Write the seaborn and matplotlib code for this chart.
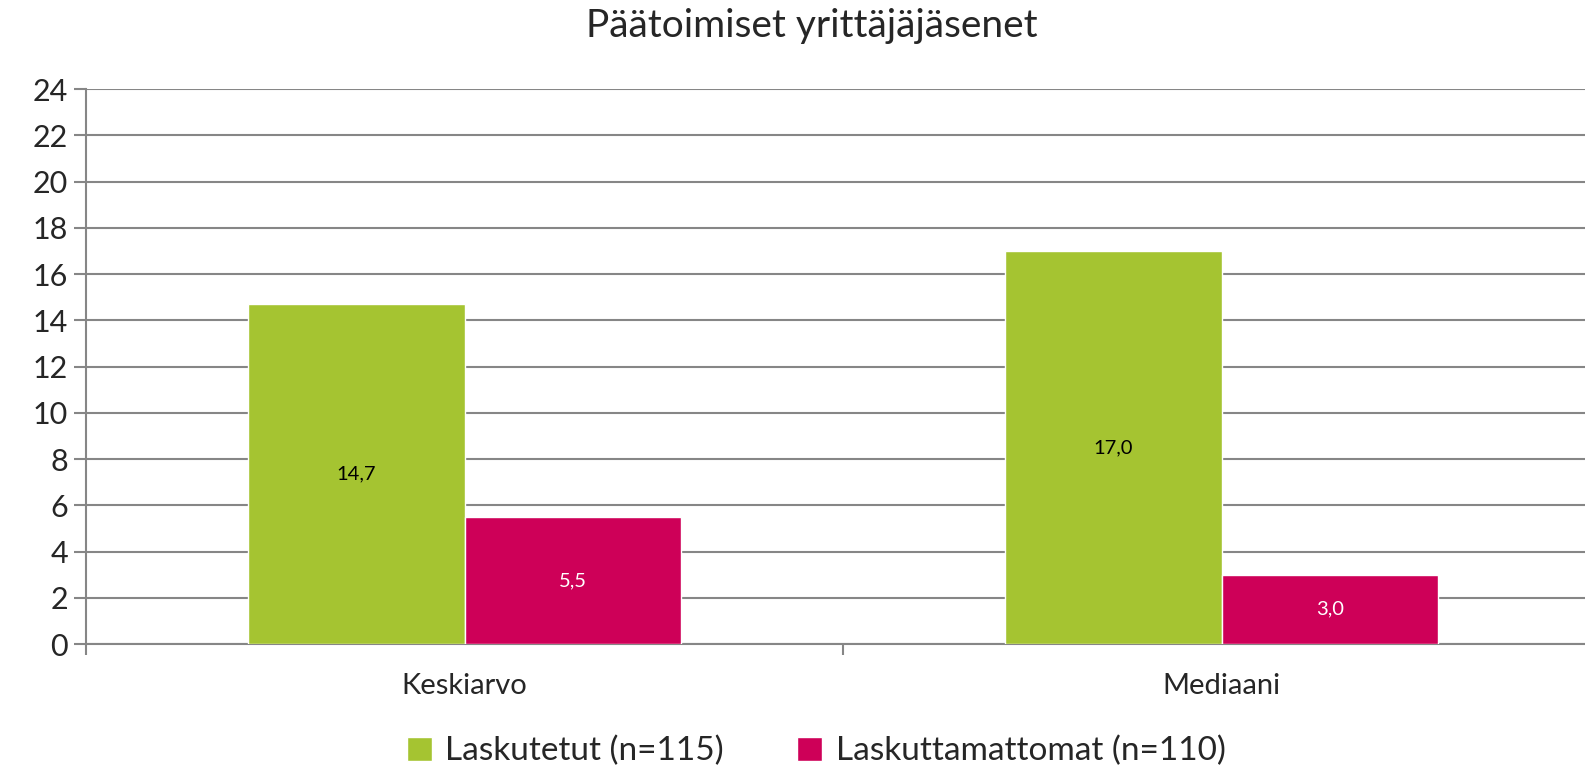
import pandas as pd
import numpy as np
import matplotlib.pyplot as plt
import seaborn as sns
from matplotlib.patches import Patch

# data
mittarit = ['Keskiarvo', 'Mediaani']
ryhmat = ['Laskutetut (n=115)', 'Laskuttamattomat (n=110)']
laskutetut = [14.7, 17.0]
laskuttamattomat = [5.5, 3.0]
y_ticks = list(range(0, 25, 2))

green = '#A5C431'
pink = '#CE0058'
grid_col = '#868686'

sns.set_style("white")
plt.rcParams['font.family'] = ['Lato', 'DejaVu Sans']

df = pd.DataFrame({
    'mittari': mittarit * 2,
    'ryhma': [ryhmat[0]] * len(mittarit) + [ryhmat[1]] * len(mittarit),
    'arvo': laskutetut + laskuttamattomat,
})

fig = plt.figure(figsize=(15.85, 7.72), dpi=100)
ax = fig.add_axes([0.0543, 0.1658, 0.9457, 0.7189])

sns.barplot(data=df, x='mittari', y='arvo', hue='ryhma', palette=[green, pink],
            width=0.572, gap=0, errorbar=None, saturation=1, ax=ax, zorder=3,
            legend=False)

# value labels inside bars
label_cols = ['black', 'white']
for cont, col in zip(ax.containers, label_cols):
    labs = [f'{b.get_height():.1f}'.replace('.', ',') for b in cont]
    ax.bar_label(cont, labels=labs, label_type='center', color=col, fontsize=14.5)

ax.set_yticks(y_ticks)
ax.yaxis.grid(True, color=grid_col, linewidth=1.5, zorder=0)
ax.set_axisbelow(True)
ax.tick_params(axis='y', labelsize=22, length=9, width=1.5, color=grid_col, pad=4, left=True)
ax.set_xticks(range(len(mittarit)))
ax.set_xticklabels(mittarit, fontsize=21)
ax.set_xticks([-0.5, 0.5], minor=True)
ax.tick_params(axis='x', which='major', length=0, pad=21)
ax.tick_params(axis='x', which='minor', length=8, width=1.5, color=grid_col, bottom=True)
ax.set_xlabel('')
ax.set_ylabel('')
# limits last, set_xticks widens the view
ax.set_ylim(0, 24)
ax.set_xlim(-0.5, 1.48)

for s in ['top', 'right']:
    ax.spines[s].set_visible(False)
ax.spines['left'].set_color(grid_col)
ax.spines['left'].set_linewidth(1.5)
ax.spines['bottom'].set_color(grid_col)
ax.spines['bottom'].set_linewidth(1.5)

fig.suptitle('Päätoimiset yrittäjäjäsenet', fontsize=28, x=0.512, y=0.99)

handles = [Patch(facecolor=green), Patch(facecolor=pink)]
fig.legend(handles, ryhmat, loc='center', bbox_to_anchor=(0.515, 0.027), ncol=2,
           frameon=False, fontsize=24, handlelength=0.75, handleheight=0.75,
           handletextpad=0.4, columnspacing=2.2)

plt.savefig('out.png', dpi=100)
plt.close()
